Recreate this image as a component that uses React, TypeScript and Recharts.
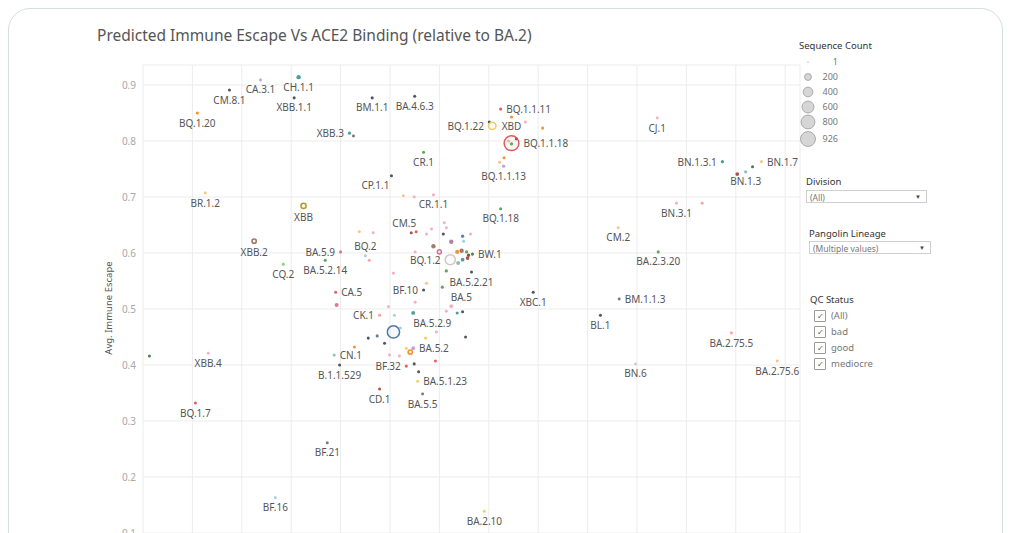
import {
  ScatterChart,
  Scatter,
  XAxis,
  YAxis,
  ZAxis,
  CartesianGrid,
} from "recharts";

// lineage label ("" = unlabelled mark)
const lineages = [
  "CA.3.1", "CH.1.1", "CM.8.1", "XBB.1.1", "BM.1.1", "BA.4.6.3", "BQ.1.20", "XBB.3", "", "BQ.1.1.11",
  "XBD", "", "", "", "BQ.1.22", "", "BQ.1.1.18", "", "", "",
  "", "BQ.1.1.13", "CR.1", "CP.1.1", "BR.1.2", "XBB", "", "", "CR.1.1", "BQ.1.18",
  "XBB.2", "", "", "CM.5", "", "", "", "", "", "",
  "", "", "", "", "BA.5.9", "BA.5.2.14", "CQ.2", "BQ.2", "", "",
  "", "", "", "", "", "", "", "", "", "BQ.1.2",
  "BW.1", "", "BA.5.2.21", "", "", "BF.10", "BA.5", "", "CA.5", "",
  "", "", "", "", "", "XBC.1", "CK.1", "", "BA.5.2.9", "",
  "", "", "", "", "", "", "", "", "BA.5.2", "",
  "", "CN.1", "", "", "BF.32", "", "", "B.1.1.529", "", "BA.5.1.23",
  "CD.1", "BA.5.5", "", "XBB.4", "BQ.1.7", "BF.21", "BF.16", "BA.2.10", "CJ.1", "BN.1.3.1",
  "BN.1.7", "", "BN.1.3", "", "BN.3.1", "", "CM.2", "BA.2.3.20", "BM.1.1.3", "BL.1",
  "BA.2.75.5", "BN.6", "BA.2.75.6",
];

// ACE2 binding (relative to BA.2), hidden axis units
const ace2Binding = [
  2.38, 3.15, 1.75, 3.06, 4.64, 5.5, 1.1, 4.18, 4.26, 7.24,
  7.46, 7.74, 8.09, 7.01, 7.07, 7.56, 7.46, 7.46, 7.4, 7.31,
  7.22, 7.3, 5.68, 5.03, 1.26, 3.25, 5.27, 5.49, 5.88, 7.24,
  2.25, 4.38, 4.66, 5.43, 5.53, 5.74, 5.84, 6.08, 6.14, 6.1,
  6.24, 6.47, 6.49, 6.63, 4.0, 3.69, 2.84, 4.5, 4.58, 5.88,
  6.0, 5.51, 6.36, 6.45, 6.55, 6.59, 6.57, 6.38, 6.47, 6.22,
  6.67, 6.14, 6.65, 5.07, 5.74, 5.68, 6.06, 5.51, 3.9, 3.92,
  4.97, 6.24, 6.14, 6.36, 6.47, 7.9, 4.79, 5.09, 5.47, 5.07,
  5.21, 5.94, 5.72, 6.53, 4.56, 4.74, 4.89, 4.28, 5.47, 5.41,
  5.33, 3.87, 4.99, 5.19, 5.33, 5.49, 5.92, 3.98, 5.58, 5.56,
  4.79, 5.66, 0.13, 1.32, 1.06, 3.73, 2.68, 6.91, 10.41, 11.73,
  12.52, 12.34, 12.2, 12.03, 10.8, 11.32, 9.62, 10.43, 9.64, 9.26,
  11.91, 9.97, 12.84,
];

const immuneEscape = [
  0.909, 0.914, 0.891, 0.877, 0.877, 0.88, 0.85, 0.814, 0.809, 0.857,
  0.843, 0.834, 0.823, 0.834, 0.827, 0.804, 0.796, 0.795, 0.8, 0.77,
  0.762, 0.755, 0.78, 0.738, 0.707, 0.684, 0.702, 0.7, 0.704, 0.679,
  0.621, 0.638, 0.636, 0.636, 0.638, 0.634, 0.643, 0.634, 0.645, 0.654,
  0.62, 0.63, 0.621, 0.634, 0.602, 0.587, 0.58, 0.595, 0.587, 0.612,
  0.602, 0.602, 0.602, 0.604, 0.602, 0.596, 0.591, 0.582, 0.588, 0.588,
  0.598, 0.568, 0.566, 0.564, 0.546, 0.534, 0.539, 0.512, 0.53, 0.507,
  0.504, 0.505, 0.496, 0.493, 0.495, 0.53, 0.489, 0.489, 0.493, 0.459,
  0.466, 0.459, 0.448, 0.45, 0.448, 0.452, 0.439, 0.432, 0.43, 0.423,
  0.43, 0.418, 0.418, 0.416, 0.398, 0.402, 0.407, 0.4, 0.388, 0.371,
  0.357, 0.348, 0.416, 0.421, 0.332, 0.261, 0.163, 0.139, 0.841, 0.763,
  0.763, 0.754, 0.745, 0.741, 0.689, 0.689, 0.645, 0.602, 0.518, 0.489,
  0.457, 0.402, 0.407,
];

const sequenceCount = [
  1, 40, 3, 3, 3, 3, 5, 5, 1, 5,
  3, 2, 3, 2, 250, 3, 926, 8, 2, 3,
  3, 8, 3, 3, 1, 120, 1, 1, 2, 5,
  80, 1, 1, 3, 3, 2, 1, 3, 2, 1,
  40, 6, 6, 2, 2, 3, 6, 2, 2, 40,
  70, 1, 30, 40, 5, 8, 20, 30, 20, 450,
  3, 8, 3, 1, 6, 2, 3, 1, 2, 30,
  1, 20, 1, 2, 2, 2, 6, 2, 25, 650,
  2, 1, 8, 2, 2, 2, 2, 2, 20, 80,
  2, 2, 1, 1, 2, 2, 2, 2, 2, 2,
  2, 1, 2, 1, 2, 2, 1, 2, 1, 8,
  1, 5, 8, 20, 1, 1, 1, 2, 1, 2,
  1, 1, 1,
];

const lineageColor = [
  "lpurple", "teal", "dark", "dark", "dark", "dark", "orange", "teal", "gray", "red",
  "orange", "lpink", "orange", "dark", "yellow", "dark", "red", "green", "lbrown", "orange",
  "lorange", "lpurple", "green", "dark", "lorange", "olive", "lorange", "lpink", "lpink", "green",
  "brown", "lorange", "lpink", "maroon", "red", "lpink", "lpink", "dark", "lpink", "lpink",
  "purple", "blue", "lblue", "lpink", "pink", "green", "lgreen", "lblue", "lred", "brown",
  "pink", "lpink", "orange", "brown", "green", "dbrown", "maroon", "lteal", "teal", "lgray",
  "dgreen", "green", "dark", "lpink", "lorange", "dark", "green", "lpink", "red", "pink",
  "lpink", "lpink", "lpink", "teal", "dark", "dark", "lred", "lblue", "teal", "blue",
  "lblue", "lpink", "yellow", "dark", "dark", "blue", "dark", "orange", "lpurple", "orange",
  "yellow", "lteal", "lpink", "lpink", "red", "dark", "red", "dark", "dark", "yellow",
  "maroon", "gray", "dgreen", "lpink", "red", "gray", "lblue", "yellow", "lpink", "teal",
  "lorange", "dgreen", "lteal", "maroon", "lpink", "lred", "lorange", "green", "gray", "dark",
  "lred", "lgray", "lorange",
];

// b = below, t = above, l = left, r = right, bl/br/tl = shifted
const labelSide = [
  "b", "b", "b", "b", "b", "b", "b", "l", "", "r",
  "b", "", "", "", "l", "", "r", "", "", "",
  "", "b", "b", "bl", "b", "b", "", "", "b", "b",
  "b", "", "", "tl", "", "", "", "", "", "",
  "", "", "", "", "l", "b", "b", "t", "", "",
  "", "", "", "", "", "", "", "", "", "l",
  "r", "", "b", "", "", "l", "br", "", "r", "",
  "", "", "", "", "", "b", "l", "", "br", "",
  "", "", "", "", "", "", "", "", "r", "",
  "", "r", "", "", "l", "", "", "b", "", "r",
  "b", "b", "", "b", "b", "b", "b", "b", "b", "l",
  "r", "", "b", "", "b", "", "b", "b", "r", "b",
  "b", "b", "b",
];

const yTicks = [0.1, 0.2, 0.3, 0.4, 0.5, 0.6, 0.7, 0.8, 0.9];
const xGrid = [1, 2, 3, 4, 5, 6, 7, 8, 9, 10, 11, 12, 13];
const sizeLegend = [1, 200, 400, 600, 800, 926];
const qcStatus = ["(All)", "bad", "good", "mediocre"];

const palette: Record<string, string> = {
  blue: "#4e79a7",
  lblue: "#a0cbe8",
  orange: "#f28e2b",
  lorange: "#ffbe7d",
  green: "#59a14f",
  lgreen: "#8cd17d",
  dgreen: "#3f7a4a",
  olive: "#b6992d",
  yellow: "#f1ce63",
  teal: "#499894",
  lteal: "#86bcb6",
  red: "#e15759",
  lred: "#ff9d9a",
  gray: "#79706e",
  lgray: "#cfc8c4",
  pink: "#d37295",
  lpink: "#f4a9c0",
  purple: "#b07aa1",
  lpurple: "#c49ad4",
  brown: "#9d7660",
  lbrown: "#d7b5a6",
  dbrown: "#7b4a3a",
  maroon: "#a94a42",
  dark: "#454d5a",
};

const countDomain = [1, 926];
const areaRange = [7, 200];

const points = lineages.map((name, i) => ({
  name,
  binding: ace2Binding[i],
  escape: immuneEscape[i],
  count: sequenceCount[i],
  color: palette[lineageColor[i]],
  side: labelSide[i],
}));
const labelled = points.filter((p) => p.name !== "");

const radiusFor = (count: number) => {
  const t = (count - countDomain[0]) / (countDomain[1] - countDomain[0]);
  return Math.sqrt((areaRange[0] + t * (areaRange[1] - areaRange[0])) / Math.PI);
};

const FONT = "'Noto Sans', 'Open Sans', sans-serif";

const Dot = (props: any) => {
  const { cx, cy, payload, width } = props;
  if (cx == null || cy == null) return null;
  const r = (width ?? 3) / 2;
  const ring = r > 2.4;
  return (
    <circle
      cx={cx}
      cy={cy}
      r={ring ? r - 0.6 : r}
      fill={payload.color}
      fillOpacity={ring ? 0.06 : 0.95}
      stroke={payload.color}
      strokeWidth={ring ? 1.5 : 0}
    />
  );
};

const Tag = (props: any) => {
  const { cx, cy, payload, width } = props;
  if (cx == null || cy == null) return null;
  const r = (width ?? 3) / 2;
  const side = payload.side;
  let x = cx;
  let y = cy;
  let anchor: "start" | "middle" | "end" = "middle";
  if (side === "b") y = cy + r + 8;
  if (side === "bl") { y = cy + r + 8; x = cx - 16; }
  if (side === "br") { y = cy + r + 8; x = cx + 19; }
  if (side === "t") y = cy - r - 8;
  if (side === "tl") { y = cy - r - 8; x = cx - 7; }
  if (side === "l") { x = cx - r - 4; anchor = "end"; }
  if (side === "r") { x = cx + r + 4; anchor = "start"; }
  return (
    <text
      x={x}
      y={y}
      textAnchor={anchor}
      dominantBaseline="central"
      fontSize={10}
      fontFamily={FONT}
      fill="#555"
    >
      {payload.name}
    </text>
  );
};

const Checkbox = () => (
  <div
    style={{
      width: 10,
      height: 10,
      border: "1px solid #9a9a9a",
      borderRadius: 1,
      fontSize: 8,
      lineHeight: "10px",
      textAlign: "center",
      color: "#555",
    }}
  >
    ✓
  </div>
);

const Dropdown = ({ text, left, top, width }: any) => (
  <div
    style={{
      position: "absolute",
      left,
      top,
      width,
      height: 13,
      border: "1px solid #cfcfcf",
      fontSize: 8.5,
      lineHeight: "13px",
      color: "#777",
      paddingLeft: 3,
      boxSizing: "border-box",
    }}
  >
    {text}
    <span style={{ position: "absolute", right: 5, top: 0, fontSize: 6, color: "#444" }}>▼</span>
  </div>
);

export default function App() {
  return (
    <div
      style={{
        position: "absolute",
        left: 0,
        top: 0,
        width: 1012,
        height: 533,
        overflow: "hidden",
        background: "#fff",
        fontFamily: FONT,
      }}
    >
      <div
        style={{
          position: "absolute",
          left: 8,
          top: 8,
          width: 995,
          height: 600,
          border: "1.5px solid #d4dfde",
          borderRadius: 22,
          boxSizing: "border-box",
        }}
      />
      <div
        style={{
          position: "absolute",
          left: 97,
          top: 24,
          fontSize: 15.5,
          color: "#555",
          whiteSpace: "nowrap",
        }}
      >
        Predicted Immune Escape Vs ACE2 Binding (relative to BA.2)
      </div>

      <div style={{ position: "absolute", left: 0, top: 0 }}>
        <ScatterChart
          width={1012}
          height={533}
          margin={{ top: 65, right: 212, bottom: 0, left: 0 }}
        >
          <CartesianGrid stroke="#ececec" strokeWidth={1} />
          <XAxis
            type="number"
            dataKey="binding"
            domain={[0, 13.3]}
            ticks={xGrid}
            allowDataOverflow
            hide
          />
          <YAxis
            type="number"
            dataKey="escape"
            domain={[0.1, 0.9357]}
            ticks={yTicks}
            interval={0}
            allowDataOverflow
            width={143}
            axisLine={false}
            tickLine={false}
            tickSize={0}
            tickMargin={7}
            tick={{ fill: "#a8a8a8", fontSize: 10, fontFamily: FONT }}
            label={{
              content: () => (
                <text
                  x={108}
                  y={308}
                  transform="rotate(-90 108 308)"
                  textAnchor="middle"
                  dominantBaseline="central"
                  fontSize={9.5}
                  fontFamily={FONT}
                  fill="#555"
                >
                  Avg. Immune Escape
                </text>
              ),
            }}
          />
          <ZAxis type="number" dataKey="count" domain={countDomain} range={areaRange} />
          <Scatter data={points} shape={<Dot />} isAnimationActive={false} />
          <Scatter data={labelled} shape={<Tag />} isAnimationActive={false} />
        </ScatterChart>
      </div>

      {/* size legend */}
      <div style={{ position: "absolute", left: 799, top: 39, fontSize: 9.5, color: "#333" }}>
        Sequence Count
      </div>
      {sizeLegend.map((c, i) => {
        const r = c === 1 ? 1 : radiusFor(c) - 0.5;
        const top = [62, 77, 92, 107, 122, 139][i];
        return (
          <div key={c}>
            <svg
              style={{ position: "absolute", left: 800, top: top - 8 }}
              width={16}
              height={16}
            >
              <circle cx={8} cy={8} r={r} fill="#d6d6d6" stroke="#aaa" strokeWidth={c === 1 ? 0 : 1} />
            </svg>
            <div
              style={{
                position: "absolute",
                left: 818,
                top: top - 7,
                width: 20,
                textAlign: "right",
                fontSize: 9,
                color: "#777",
              }}
            >
              {c}
            </div>
          </div>
        );
      })}

      <div style={{ position: "absolute", left: 806, top: 175, fontSize: 9.5, color: "#333" }}>
        Division
      </div>
      <Dropdown text="(All)" left={806} top={190} width={121} />

      <div style={{ position: "absolute", left: 809, top: 227, fontSize: 9.5, color: "#333" }}>
        Pangolin Lineage
      </div>
      <Dropdown text="(Multiple values)" left={809} top={241} width={122} />

      <div style={{ position: "absolute", left: 810, top: 293, fontSize: 9.5, color: "#333" }}>
        QC Status
      </div>
      {qcStatus.map((s, i) => (
        <div
          key={s}
          style={{
            position: "absolute",
            left: 814,
            top: 309 + i * 16,
            display: "flex",
            alignItems: "center",
            gap: 5,
            fontSize: 9.5,
            color: "#777",
          }}
        >
          <Checkbox />
          <span>{s}</span>
        </div>
      ))}
    </div>
  );
}
